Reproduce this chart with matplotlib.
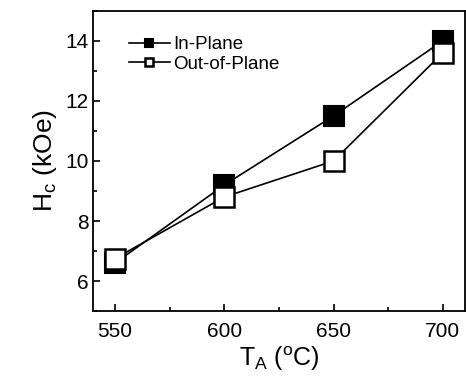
import matplotlib.pyplot as plt
from matplotlib.ticker import MultipleLocator

plt.rcParams['font.family'] = ['Liberation Sans', 'DejaVu Sans']

temps = [550, 600, 650, 700]
in_plane = [6.6, 9.2, 11.5, 14.0]
out_plane = [6.75, 8.8, 10.0, 13.6]

fig = plt.figure(figsize=(4.66, 3.86), dpi=100)
ax = fig.add_axes([0.2, 0.194, 0.797, 0.778])

ax.plot(temps, in_plane, '-s', color='black', lw=1.2, ms=15,
        mfc='black', mec='black', mew=1.5, label='In-Plane')
ax.plot(temps, out_plane, '-s', color='black', lw=1.2, ms=15,
        mfc='white', mec='black', mew=1.8, label='Out-of-Plane')

ax.set_xlim(540, 710)
ax.set_ylim(5, 15)
ax.xaxis.set_major_locator(MultipleLocator(50))
ax.xaxis.set_minor_locator(MultipleLocator(25))
ax.yaxis.set_major_locator(MultipleLocator(2))
ax.yaxis.set_minor_locator(MultipleLocator(1))
ax.tick_params(which='both', direction='in', top=False, right=False,
               labelsize=15, width=1.2)
ax.tick_params(axis='x', which='major', pad=8)
ax.tick_params(which='major', length=5)
ax.tick_params(which='minor', length=3)
for s in ax.spines.values():
    s.set_linewidth(1.3)

ax.set_xlabel(r'T$_{\mathregular{A}}$ ($^{\mathregular{o}}$C)', fontsize=18, labelpad=2)
ax.set_ylabel(r'H$_{\mathregular{c}}$ (kOe)', fontsize=19, labelpad=4)

ax.legend(loc='upper left', bbox_to_anchor=(0.06, 0.96), frameon=False,
          fontsize=13.5, markerscale=0.35, handlelength=2.2, handletextpad=0.2,
          labelspacing=0.15, borderpad=0.2)

fig.savefig('out.png', dpi=100)
